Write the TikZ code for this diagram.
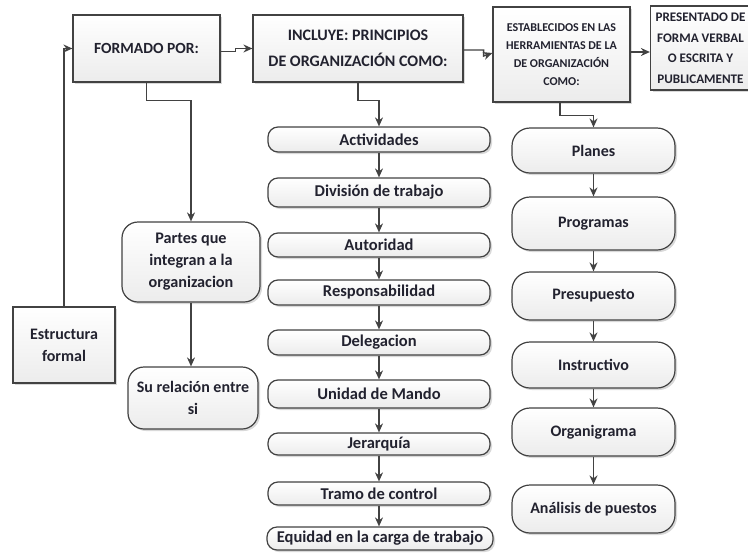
\documentclass[tikz,border=0pt]{standalone}
\usepackage{fontspec}
\setmainfont{Carlito}
\usetikzlibrary{arrows.meta,shadows}
\definecolor{txt}{HTML}{22222F}
\definecolor{edge}{HTML}{424242}
\tikzset{
  box/.style={draw=edge, line width=1.2pt, top color=white, bottom color=gray!15,
    drop shadow={opacity=0.3, shadow xshift=2pt, shadow yshift=-2pt},
    text=txt, align=center, inner sep=2pt},
  sqbox/.style={box, rectangle},
  rbox/.style={box, rounded corners=#1},
  pill/.style={rbox=10pt, minimum width=222pt, font=\fontsize{16.5}{18}\selectfont\bfseries},
  pill2/.style={rbox=18pt, minimum width=163pt, font=\fontsize{16}{18}\selectfont\bfseries},
  arr/.style={draw=edge, line width=1.4pt, -{Stealth[length=9pt,width=8pt]}}
}
\begin{document}
\begin{tikzpicture}[x=1pt,y=-1pt]
\useasboundingbox (0,0) rectangle (748,558);
\begin{scope}
\clip (0,0) rectangle (748,558);
% top row
\node[sqbox, minimum width=147pt, minimum height=67pt, font=\fontsize{15.5}{20}\selectfont\bfseries] (formado) at (146.5,48.5) {FORMADO POR:};
\node[sqbox, minimum width=210pt, minimum height=67pt, font=\fontsize{16}{26}\selectfont\bfseries] (incluye) at (358,48.5) {INCLUYE: PRINCIPIOS\\DE ORGANIZACIÓN COMO:};
\node[sqbox, minimum width=137pt, minimum height=95pt, font=\fontsize{12}{18}\selectfont\bfseries] (estab) at (561.5,54.5) {ESTABLECIDOS EN LAS\\HERRAMIENTAS DE LA\\DE ORGANIZACIÓN\\COMO:};
\node[sqbox, minimum width=100pt, minimum height=84pt, font=\fontsize{13.1}{20.5}\selectfont\bfseries] (present) at (700.5,48) {PRESENTADO DE\\FORMA VERBAL\\O ESCRITA Y\\PUBLICAMENTE};
% left
\node[sqbox, minimum width=102pt, minimum height=76pt, font=\fontsize{16}{22}\selectfont\bfseries] (estructura) at (64,345) {Estructura\\formal};
\node[rbox=16pt, minimum width=138pt, minimum height=80pt, font=\fontsize{16.2}{22}\selectfont\bfseries] (partes) at (191,262) {Partes que\\integran a la\\organizacion};
\node[rbox=16pt, minimum width=130pt, minimum height=62pt, font=\fontsize{16}{22}\selectfont\bfseries] (surel) at (193,398) {Su relación entre\\si};
% column 1
\node[pill, minimum height=25pt] (c1) at (379,139.5) {Actividades};
\node[pill, minimum height=29pt] (c2) at (379,192.5) {División de trabajo};
\node[pill, minimum height=24pt] (c3) at (379,245) {Autoridad};
\node[pill, minimum height=25pt] (c4) at (379,292.5) {Responsabilidad};
\node[pill, minimum height=25pt] (c5) at (379,342.5) {Delegacion};
\node[pill, minimum height=28pt] (c6) at (379,394) {Unidad de Mando};
\node[pill, minimum height=22pt] (c7) at (379,444) {Jerarquía};
\node[pill, minimum height=23pt] (c8) at (379,493.5) {Tramo de control};
\node[pill, minimum height=23pt, minimum width=226pt] (c9) at (380,538.5) {Equidad en la carga de trabajo};
% column 2
\node[pill2, minimum height=45pt] (d1) at (593.5,150.5) {Planes};
\node[pill2, minimum height=53pt] (d2) at (593.5,223.5) {Programas};
\node[pill2, minimum height=48pt] (d3) at (593.5,296) {Presupuesto};
\node[pill2, minimum height=46pt] (d4) at (593.5,365) {Instructivo};
\node[pill2, minimum height=48pt] (d5) at (593.5,432) {Organigrama};
\node[pill2, minimum height=48pt] (d6) at (593.5,509) {Análisis de puestos};
\end{scope}
% connectors
\draw[arr] (estructura.north) |- (formado.west);
\draw[arr] ([yshift=-3pt]formado.east) -- ++(15,0) -- ++(0,-3) -- (formado.east -| incluye.west);
\draw[arr] ([yshift=-1.5pt]incluye.east) -- ++(20,0) -- ++(0,6) -- ([yshift=-4.5pt]incluye.east -| estab.west);
\draw[arr] ([yshift=2.5pt]estab.east) -- ([yshift=2.5pt]estab.east -| present.west);
\draw[arr] (formado.south) -- ++(0,18) -| (partes.north);
\draw[arr] (partes.south) -- (partes.south |- surel.north);
\draw[arr] (incluye.south) -- ++(0,18) -| (c1.north);
\draw[arr] ([xshift=-1.5pt]estab.south) -- ++(0,13) -| (d1.north);
\foreach \a/\b in {c1/c2,c2/c3,c3/c4,c4/c5,c5/c6,c6/c7,c7/c8,c8/c9,d1/d2,d2/d3,d3/d4,d4/d5,d5/d6}
  \draw[arr] (\a.south) -- (\a.south |- \b.north);
\end{tikzpicture}
\end{document}
